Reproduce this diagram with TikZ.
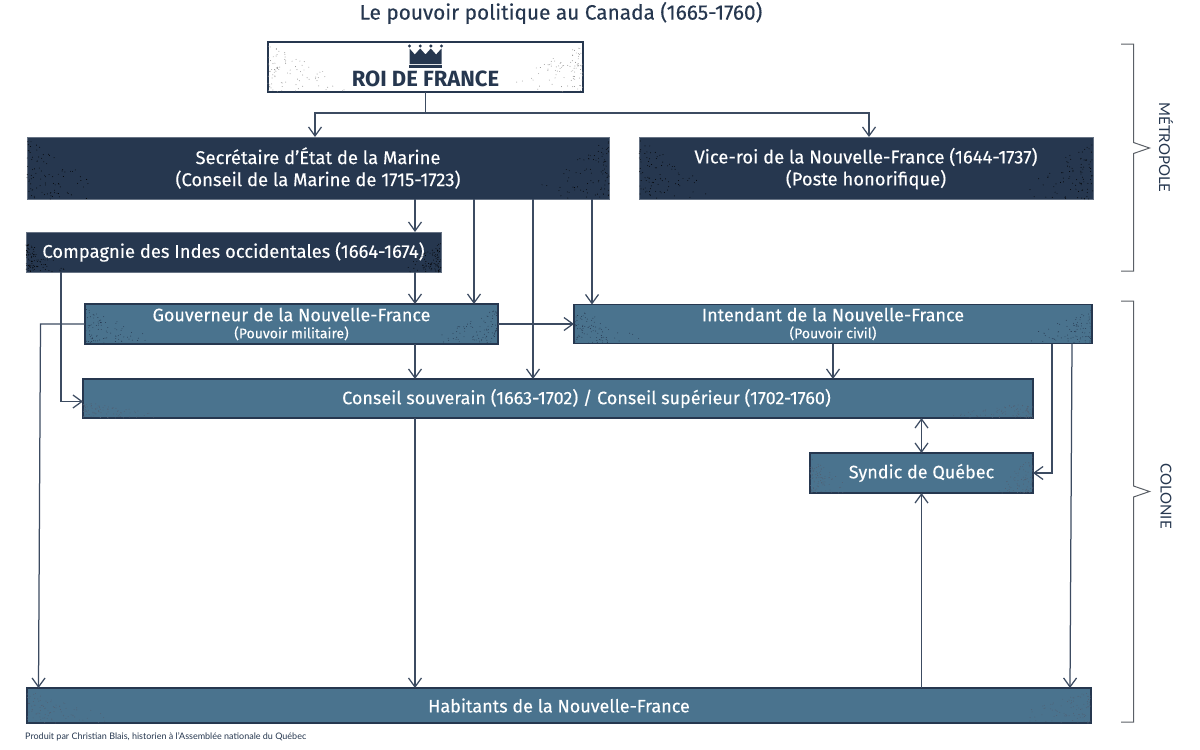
\documentclass[tikz,border=0pt]{standalone}
\usepackage{fontspec}
\setmainfont{Fira Sans}
\newfontfamily\thinfont{Lato}
\newfontfamily\boxfont[FakeBold=0.25]{Fira Sans}
\usepackage{xcolor}
\usetikzlibrary{positioning,arrows.meta}
\definecolor{navycolor}{HTML}{26374F}
\definecolor{bluecolor}{HTML}{4A738E}
\definecolor{grey1}{HTML}{5A5F66}
\tikzset{
  dark/.style={draw=navycolor!70, fill=navycolor, text=white, outer sep=0pt, align=center, inner sep=1pt, font=\boxfont\fontsize{18.4}{22}\selectfont},
  lite/.style={draw=navycolor, line width=1.2pt, fill=bluecolor, text=white, outer sep=0pt, align=center, inner sep=1pt, font=\boxfont\fontsize{18}{19}\selectfont},
  roibox/.style={draw=navycolor, line width=1.1pt, fill=white, outer sep=0pt, inner sep=0pt},
  flow/.style={-{Straight Barb[length=9pt,width=13pt]}, line width=1.25pt, draw=navycolor!90},
  twoway/.style={{Straight Barb[length=9pt,width=13pt]}-{Straight Barb[length=9pt,width=13pt]}, line width=1.25pt, draw=navycolor!90},
  brak/.style={line width=1pt, draw=grey1},
  side/.style={rotate=-90, text=navycolor, inner sep=0pt, font=\thinfont\fontsize{15}{16}\selectfont},
}
\newcommand{\subl}[1]{{\fontsize{14}{15}\selectfont #1}}
% specks in the lower corners of a box
\newcommand{\grain}[4]{%
  \foreach \i in {1,...,90}{
    \pgfmathsetmacro\gx{#4*rnd*rnd}
    \pgfmathsetmacro\gy{#3*rnd*(1-0.8*\gx/#4)}
    \pgfmathsetmacro\hx{#4*rnd*rnd}
    \pgfmathsetmacro\hy{#3*rnd*(1-0.8*\hx/#4)}
    \fill[#2] ([shift={(\gx,\gy)}]#1.south west) circle (0.45);
    \fill[#2] ([shift={(-\hx,\hy)}]#1.south east) circle (0.45);
  }
}

\begin{document}
\begin{tikzpicture}[x=1pt, y=1pt]
\useasboundingbox (0,0) rectangle (1200,-750);
\pgfmathsetseed{1665}
\node[roibox, minimum width=315, minimum height=50] (roi) at (425.5,-67) {};
\node[dark, below=45 of roi.south west, anchor=north west, xshift=-241, minimum width=582, minimum height=62] (sec) {Secrétaire d’État de la Marine\\(Conseil de la Marine de 1715-1723)};
\node[dark, right=30 of sec, minimum width=454, minimum height=62] (vice) {\vphantom{É}Vice-roi de la Nouvelle-France (1644-1737)\\(Poste honorifique)};
\node[dark, below=33 of sec.south west, anchor=north west, xshift=-1, minimum width=415, minimum height=40] (comp) {Compagnie des Indes occidentales (1664-1674)};
\node[lite, below=32 of comp.south west, anchor=north west, xshift=59, minimum width=413, minimum height=40] (gouv) {Gouverneur de la Nouvelle-France\\[-2pt]\subl{(Pouvoir militaire)}};
\node[lite, right=76 of gouv, minimum width=518, minimum height=39] (inten) {Intendant de la Nouvelle-France\\[-2pt]\subl{(Pouvoir civil)}};
\node[lite, below=35 of gouv.south west, anchor=north west, xshift=-2, minimum width=950, minimum height=39] (cons) {\hspace*{57pt}Conseil souverain (1663-1702) / Conseil supérieur (1702-1760)};
\node[lite, below=35 of cons.south east, anchor=north east, minimum width=223, minimum height=40] (syn) {Syndic de Québec};
\node[lite, below=270 of cons.south west, anchor=north west, xshift=-56, minimum width=1064, minimum height=35] (hab) {Habitants de la Nouvelle-France};
% specks
\grain{roi}{black!45}{48}{80}
\grain{sec}{black}{60}{80}
\grain{vice}{black}{60}{75}
\grain{comp}{black}{30}{40}
\grain{gouv}{navycolor}{36}{70}
\grain{inten}{navycolor}{36}{70}
\grain{cons}{navycolor!80}{16}{90}
\grain{syn}{navycolor!80}{36}{38}
\grain{hab}{navycolor!80}{32}{90}
\node[text=navycolor, inner sep=0pt, font=\boxfont\fontsize{20.8}{22}\selectfont] (titre) at (561,-13) {Le pouvoir politique au Canada (1665-1760)};
\node[text=navycolor, inner sep=0pt, font=\fontsize{22}{24}\selectfont\bfseries, above=5 of roi.south] (roit) {ROI DE FRANCE};
\node[text=navycolor, inner sep=0pt, font=\thinfont\fontsize{9}{10}\selectfont, anchor=west] (credit) at (25,-737) {Produit par Christian Blais, historien à l’Assemblée nationale du Québec};
% crown
\fill[navycolor] ([shift={(-16,-22)}]roi.north) -- ++(0,15.5) -- ++(5.3,-6) -- ++(5.4,6) -- ++(5.3,-6) -- ++(5.3,6) -- ++(5.3,-6) -- ++(5.4,6) -- ++(0,-15.5) -- cycle;
\fill[navycolor] ([shift={(-16.5,-26)}]roi.north) rectangle ++(33,3);
\foreach \dx in {-16,-5.3,5.3,16}
  \fill[navycolor] ([shift={(\dx,-4)}]roi.north) circle (1.7);
% columns
\coordinate (c0) at (315,0);
\coordinate (c1) at (415,0);
\coordinate (c2) at (474,0);
\coordinate (c3) at (533,0);
\coordinate (c4) at (592,0);
\coordinate (c5) at (833,0);
\coordinate (c6) at (869,0);
\coordinate (c7) at (1052,0);
\coordinate (c8) at (1072,0);
\coordinate (c9) at (61,0);
\coordinate (c10) at (40.5,0);
\coordinate (rail) at (0,-113);
\draw[flow] (roi.south) -- (roi.south |- rail) -| (c0 |- sec.north);
\draw[flow] (roi.south |- rail) -| (c6 |- vice.north);
\draw[flow] (c1 |- sec.south) -- (c1 |- comp.north);
\draw[flow] (c1 |- comp.south) -- (c1 |- gouv.north);
\draw[flow] (c1 |- gouv.south) -- (c1 |- cons.north);
\draw[flow] (c1 |- cons.south) -- (c1 |- hab.north);
\draw[flow] (c2 |- sec.south) -- (c2 |- gouv.north);
\draw[flow] (c3 |- sec.south) -- (c3 |- cons.north);
\draw[flow] (c4 |- sec.south) -- (c4 |- inten.north);
\draw[flow] (gouv.east) -- (gouv.east -| inten.west);
\draw[flow] (c5 |- inten.south) -- (c5 |- cons.north);
\draw[flow] (c7 |- inten.south) |- (syn.east);
\draw[flow] (c8 |- inten.south) -- ([xshift=-2]c8 |- hab.north);
\draw[flow] (c9 |- comp.south) |- ([yshift=-3]cons.west);
\draw[flow] (gouv.west) -- (c10 |- gouv.west) -- ([xshift=-2]c10 |- hab.north);
\draw[twoway] (syn.north) -- (syn.north |- cons.south);
\draw[flow] (syn.south |- hab.north) -- (syn.south);
% brackets
\draw[brak] (1121,-44) -- (1133.5,-44) -- (1133.5,-142.5) -- (1149.5,-148) -- (1133.5,-153.5) -- (1133.5,-271) -- (1121,-271);
\draw[brak] (1121,-301) -- (1133.5,-301) -- (1133.5,-486) -- (1149.5,-491.5) -- (1133.5,-497) -- (1133.5,-722) -- (1121,-722);
\node[side] (metro) at (1166,-147.5) {MÉTROPOLE};
\node[side] (colo) at (1166,-496) {COLONIE};
\end{tikzpicture}
\end{document}
